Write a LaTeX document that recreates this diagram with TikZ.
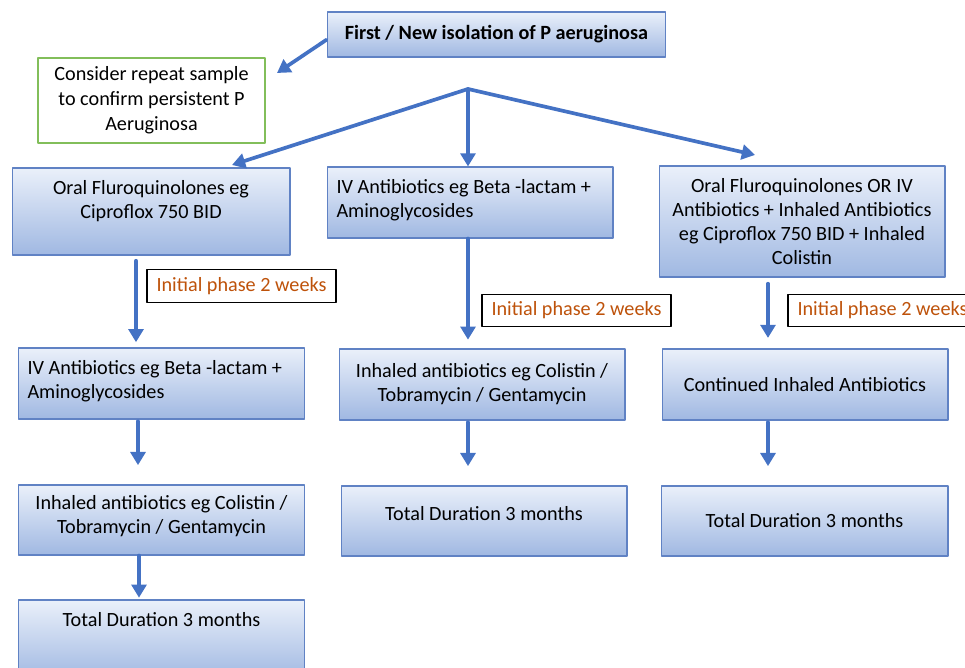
\documentclass[tikz,border=0pt]{standalone}
\usepackage{fontspec}
\setmainfont{Carlito}
\usetikzlibrary{arrows.meta}

\definecolor{flowblue}{RGB}{68,114,196}
\definecolor{boxline}{RGB}{96,130,196}
\definecolor{boxtop}{RGB}{234,240,250}
\definecolor{boxbot}{RGB}{160,184,226}
\definecolor{notegreen}{RGB}{130,190,90}
\definecolor{phasebrown}{RGB}{190,82,10}

\begin{document}
\begin{tikzpicture}[
			x=0.02cm, y=-0.02cm,
			every node/.style={font=\fontsize{11.5}{13.6}\selectfont},
			line cap=round,
			line join=round,
			box/.style={draw=boxline, line width=0.6pt, top color=boxtop, bottom color=boxbot, inner sep=0pt},
			note/.style={draw=notegreen, line width=0.6pt, fill=white, inner sep=0pt},
			phase/.style={draw=black, line width=0.6pt, fill=white, text=phasebrown, inner sep=0pt, minimum width=3.78cm, minimum height=0.65cm},
			flow/.style={draw=flowblue, line width=2.1pt, -{Triangle[length=7.5pt,width=8.5pt]}}
			]
			\useasboundingbox (0,0) rectangle (965,668);
			
			% Start
			\node[box, minimum width=6.78cm, minimum height=0.9cm, font=\fontsize{11.5}{13.6}\selectfont\bfseries] (isol) at (496.5,34.5) {First / New isolation of P aeruginosa};
			\node[note, minimum width=4.54cm, minimum height=1.7cm, align=center, font=\fontsize{11.5}{14.2}\selectfont] (repeat) at (151.5,100.5) {Consider repeat sample\\to confirm persistent P\\Aeruginosa};
			
			% First row
			\node[box, minimum width=5.56cm, minimum height=1.74cm] (oral) at (151,211.5) {};
			\node[anchor=north, align=center, inner sep=0pt] (oraltxt) at ([yshift=-7pt]oral.north) {Oral Fluroquinolones eg\\Ciproflox 750 BID};
			
			\node[box, minimum width=5.72cm, minimum height=1.42cm] (ivm) at (470,202.5) {};
			\node[anchor=north west, align=left, inner sep=0pt] (ivmtxt) at ([shift={(5.5pt,-7pt)}]ivm.north west) {IV Antibiotics eg Beta -lactam +\\Aminoglycosides};
			
			\node[box, minimum width=5.72cm, minimum height=2.22cm, align=center] (combo) at (802,221.5) {Oral Fluroquinolones OR IV\\Antibiotics + Inhaled Antibiotics\\eg Ciproflox 750 BID + Inhaled\\Colistin};
			
			% Phase labels
			\node[phase] (phaseL) at (241.5,286) {Initial phase 2 weeks};
			\node[phase] (phaseM) at (576.5,310.5) {Initial phase 2 weeks};
			\node[phase] (phaseR) at (882.5,310.5) {Initial phase 2 weeks};
			
			% Second row
			\node[box, minimum width=5.74cm, minimum height=1.42cm] (ivl) at (161.5,383.5) {};
			\node[anchor=north west, align=left, inner sep=0pt] (ivltxt) at ([shift={(5.5pt,-7pt)}]ivl.north west) {IV Antibiotics eg Beta -lactam +\\Aminoglycosides};
			
			\node[box, minimum width=5.72cm, minimum height=1.42cm, align=center] (inhm) at (482,384.5) {Inhaled antibiotics eg Colistin /\\Tobramycin / Gentamycin};
			\node[box, minimum width=5.72cm, minimum height=1.42cm] (cont) at (805,384.5) {Continued Inhaled Antibiotics};
			
			% Third row
			\node[box, minimum width=5.74cm, minimum height=1.4cm] (inhl) at (161.5,520) {};
			\node[anchor=north, align=center, inner sep=0pt] (inhltxt) at ([yshift=-6pt]inhl.north) {Inhaled antibiotics eg Colistin /\\Tobramycin / Gentamycin};
			
			\node[box, minimum width=5.72cm, minimum height=1.4cm] (totm) at (484,521) {};
			\node[anchor=north, inner sep=0pt] (totmtxt) at ([yshift=-12pt]totm.north) {Total Duration 3 months};
			
			\node[box, minimum width=5.74cm, minimum height=1.4cm] (totr) at (804.5,521) {Total Duration 3 months};
			
			% Fourth row
			\node[box, minimum width=5.74cm, minimum height=1.6cm] (totl) at (161.5,640) {};
			\node[anchor=north, inner sep=0pt] (totltxt) at ([yshift=-7pt]totl.north) {Total Duration 3 months};
			
			% Branches
			\coordinate (cons) at (277,73);
			\coordinate (split) at (468,89);
			\coordinate (toleft) at (232,165);
			\coordinate (toright) at (755,155);
			
			\draw[flow] ([yshift=-3pt]isol.west) -- (cons);
			\draw[flow] (split) -- (toleft);
			\draw[flow] (split) -- (ivm.north -| split);
			\draw[flow] (split) -- (toright);
			
			% Downward arrows
			\draw[flow, shorten <=3pt, shorten >=3pt] (oral.south -| 136,0) -- (ivl.north -| 136,0);
			\draw[flow, shorten >=5pt] (ivm.south -| 468,0) -- (inhm.north -| 468,0);
			\draw[flow, shorten <=3.5pt, shorten >=6pt] (combo.south -| 768,0) -- (cont.north -| 768,0);
			
			\draw[flow, shorten <=1pt, shorten >=11pt] (ivl.south -| 138,0) -- (inhl.north -| 138,0);
			\draw[flow, shorten <=1pt, shorten >=11pt] (inhm.south -| 468,0) -- (totm.north -| 468,0);
			\draw[flow, shorten <=1pt, shorten >=11pt] (cont.south -| 768,0) -- (totr.north -| 768,0);
			
			\draw[flow, shorten >=1pt] (inhl.south -| 139,0) -- (totl.north -| 139,0);
		\end{tikzpicture}
\end{document}
